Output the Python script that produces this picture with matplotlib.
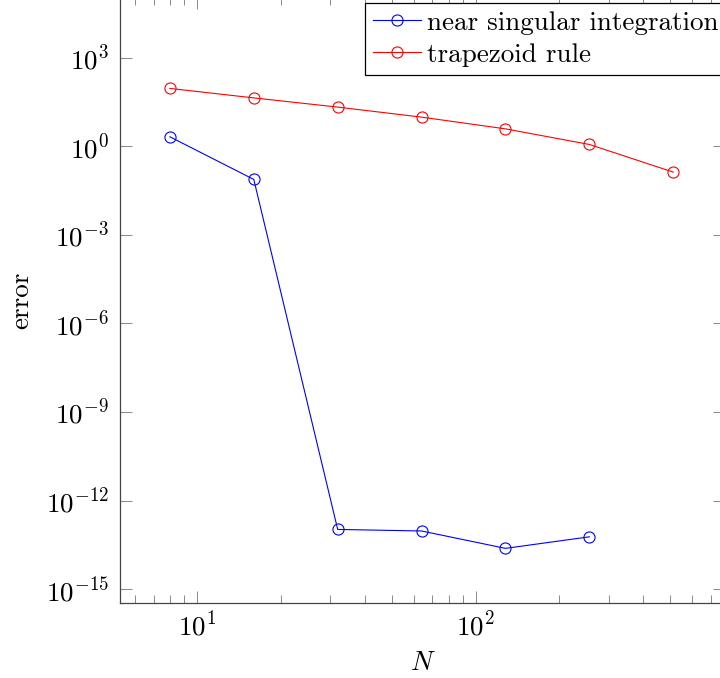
import matplotlib
matplotlib.use('Agg')
import matplotlib.pyplot as plt
from matplotlib.ticker import LogLocator, NullFormatter, NullLocator, FixedLocator

plt.rcParams['font.family'] = ['cmr10', 'DejaVu Serif']
plt.rcParams['mathtext.fontset'] = 'cm'
plt.rcParams['axes.formatter.use_mathtext'] = True
plt.rcParams['font.size'] = 19.5

N = [8, 16, 32, 64, 128, 256, 512]
near_singular = [2.07, 0.0745, 1.05e-13, 9.3e-14, 2.4e-14, 5.9e-14]
trapezoid = [90, 43, 21, 9.6, 3.85, 1.14, 0.132]
y_ticks = [1e-15, 1e-12, 1e-9, 1e-6, 1e-3, 1e0, 1e3]

fig = plt.figure(figsize=(7.2, 6.78), dpi=100)
ax = fig.add_axes([120/720, 1 - 603/678, 605/720, 606/678])

ax.loglog(N[:len(near_singular)], near_singular, color='blue', lw=0.8,
          marker='o', ms=8, mfc='none', mew=0.8, label='near singular integration')
ax.loglog(N, trapezoid, color='red', lw=0.8,
          marker='o', ms=8, mfc='none', mew=0.8, label='trapezoid rule')

ax.set_xlim(10**0.724, 10**2.895)
ax.set_ylim(10**-15.47, 10**5.05)

ax.yaxis.set_major_locator(FixedLocator(y_ticks))
ax.yaxis.set_minor_locator(NullLocator())
ax.xaxis.set_minor_locator(LogLocator(base=10, subs=range(2, 10), numticks=30))
ax.xaxis.set_minor_formatter(NullFormatter())

for s in ax.spines.values():
    s.set_color('#444444')
    s.set_linewidth(0.9)
ax.tick_params(which='both', direction='in', top=True, right=True, color='#888888', width=0.7)
ax.tick_params(which='major', length=8.3)
ax.tick_params(which='minor', length=5.5)
ax.tick_params(axis='x', pad=6)
ax.tick_params(axis='y', pad=8)

ax.set_xlabel('$N$', labelpad=7)
ax.set_ylabel('error', labelpad=9)

leg = ax.legend(loc='lower left', bbox_to_anchor=(365/720, 1 - 75/678),
                bbox_transform=fig.transFigure, fancybox=False, framealpha=1,
                edgecolor='black', borderaxespad=0, handlelength=1.75,
                handletextpad=0.25, borderpad=0.3, labelspacing=0.3)
leg.get_frame().set_linewidth(0.9)

fig.savefig('out.png', dpi=100)
